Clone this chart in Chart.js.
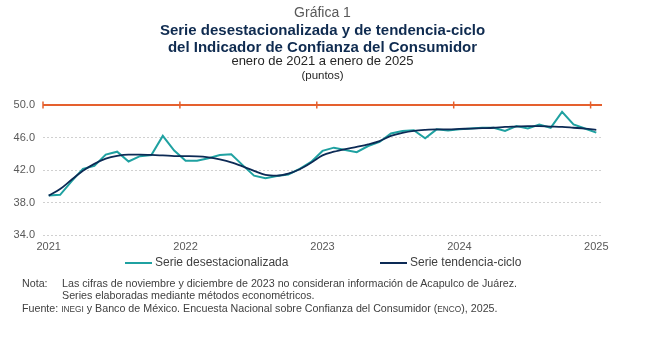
<!DOCTYPE html>
<html lang="es">
<head>
<meta charset="utf-8">
<script src="https://cdn.jsdelivr.net/npm/chart.js@4/dist/chart.umd.min.js"></script>
<style>
    body { margin: 0; background: #fff; font-family: Arial, "Liberation Sans", sans-serif; }
    #lienzo { position: relative; width: 645px; height: 337px; overflow: hidden; }
    #grafica { position: absolute; left: 0; top: 0; width: 645px; height: 337px; }
    .centrado { position: absolute; left: 0; width: 645px; text-align: center; white-space: nowrap; }
    .numero { top: 4px; font-size: 14px; color: #595959; }
    .titulo { top: 21px; font-size: 15px; font-weight: bold; color: #0f2b50; line-height: 17px; }
    .subtitulo { top: 53px; font-size: 13px; color: #262626; }
    .unidad { top: 69px; font-size: 11.5px; color: #262626; }
    .leyenda { position: absolute; top: 255px; font-size: 12px; color: #404040; white-space: nowrap; }
    .leyenda i { display: inline-block; width: 27px; height: 2px; vertical-align: middle; margin-right: 3px; }
    .nota { position: absolute; font-size: 10.7px; color: #404040; white-space: nowrap; }
    .sc { font-size: 8.3px; }
</style>
</head>
<body>
<div id="lienzo">
    <div id="grafica"><canvas id="graficaConfianza"></canvas></div>

    <div class="centrado numero">Gráfica 1</div>
    <div class="centrado titulo">Serie desestacionalizada y de tendencia-ciclo<br>del Indicador de Confianza del Consumidor</div>
    <div class="centrado subtitulo">enero de 2021 a enero de 2025</div>
    <div class="centrado unidad">(puntos)</div>

    <div class="leyenda" style="left:125px"><i style="background:#1fa1a1"></i>Serie desestacionalizada</div>
    <div class="leyenda" style="left:380px"><i style="background:#0c2a55"></i>Serie tendencia-ciclo</div>

    <div class="nota" style="left:22px; top:277px">Nota:</div>
    <div class="nota" style="left:62px; top:277px">Las cifras de noviembre y diciembre de 2023 no consideran información de Acapulco de Juárez.</div>
    <div class="nota" style="left:62px; top:289px">Series elaboradas mediante métodos econométricos.</div>
    <div class="nota" style="left:22px; top:302px">Fuente: <span class="sc">INEGI</span> y Banco de México. Encuesta Nacional sobre Confianza del Consumidor (<span class="sc">ENCO</span>), 2025.</div>
</div>

<script>
// Meses de enero 2021 a enero 2025 (indice 0 = ene 2021)
const etiquetasAnio = ['2021', '2022', '2023', '2024', '2025'];
const posicionesAnio = [0, 12, 24, 36, 48];
// Cortes entre anios, donde la linea roja lleva sus marcas
const cortesAnio = [-0.5, 11.5, 23.5, 35.5, 47.5];
const umbral = 50;

// Serie desestacionalizada (puntos)
const serieDesest = [
    38.85, 38.95, 40.6, 42.15, 42.5, 43.9, 44.25, 43.05, 43.7, 43.85, 46.2, 44.4,
    43.15, 43.15, 43.45, 43.85, 43.95, 42.6, 41.3, 41.0, 41.25, 41.45, 42.15, 43.0,
    44.35, 44.75, 44.45, 44.2, 44.95, 45.45, 46.5, 46.8, 46.9, 45.9, 47.0, 46.85,
    47.0, 47.1, 47.2, 47.2, 46.8, 47.4, 47.1, 47.6, 47.2, 49.15, 47.6, 47.1,
    46.6
];

// Serie tendencia-ciclo (puntos)
const serieTendencia = [
    38.85, 39.65, 40.8, 41.9, 42.75, 43.4, 43.75, 43.9, 43.9, 43.85, 43.8, 43.72,
    43.7, 43.68, 43.56, 43.3, 42.95, 42.45, 41.9, 41.4, 41.3, 41.55, 42.1, 42.9,
    43.8, 44.25, 44.58, 44.85, 45.15, 45.55, 46.2, 46.57, 46.82, 46.94, 47.0, 47.0,
    47.05, 47.1, 47.15, 47.2, 47.3, 47.35, 47.4, 47.4, 47.35, 47.3, 47.2, 47.1,
    46.95
];

// Linea roja en 50 puntos con marcas en cada cambio de anio
const lineaUmbral = {
    id: 'lineaUmbral',
    beforeDatasetsDraw(chart) {
        const { ctx, chartArea, scales } = chart;
        const y = scales.y.getPixelForValue(umbral);
        ctx.save();
        ctx.strokeStyle = '#e5602e';
        ctx.lineWidth = 2;
        ctx.beginPath();
        ctx.moveTo(chartArea.left, y);
        ctx.lineTo(chartArea.right, y);
        ctx.stroke();
        ctx.lineWidth = 1.5;
        cortesAnio.forEach(c => {
            const x = scales.x.getPixelForValue(c);
            ctx.beginPath();
            ctx.moveTo(x, y - 3.5);
            ctx.lineTo(x, y + 3.5);
            ctx.stroke();
        });
        ctx.restore();
    }
};

const aPuntos = serie => serie.map((v, i) => ({ x: i, y: v }));

window.addEventListener('DOMContentLoaded', () => {
    const ctx = document.getElementById('graficaConfianza').getContext('2d');

    new Chart(ctx, {
        type: 'line',
        data: {
            datasets: [
                {
                    label: 'Serie tendencia-ciclo',
                    data: aPuntos(serieTendencia),
                    borderColor: '#0c2a55',
                    borderWidth: 1.8,
                    pointRadius: 0,
                    cubicInterpolationMode: 'monotone'
                },
                {
                    label: 'Serie desestacionalizada',
                    data: aPuntos(serieDesest),
                    borderColor: '#1fa1a1',
                    borderWidth: 2,
                    pointRadius: 0,
                    tension: 0
                }
            ]
        },
        options: {
            responsive: true,
            maintainAspectRatio: false,
            animation: false,
            layout: { padding: { top: 105, right: 43, bottom: 0, left: 0 } },
            scales: {
                x: {
                    type: 'linear',
                    min: -0.5,
                    max: 48.5,
                    afterBuildTicks: s => { s.ticks = posicionesAnio.map(v => ({ value: v })); },
                    afterFit: s => { s.height = 102; },
                    grid: { display: false, drawTicks: false },
                    border: { display: false },
                    ticks: {
                        color: '#595959',
                        font: { size: 11, family: 'Arial, "Liberation Sans"' },
                        padding: 5,
                        maxRotation: 0,
                        autoSkip: false,
                        callback: v => etiquetasAnio[posicionesAnio.indexOf(v)]
                    }
                },
                y: {
                    min: 34,
                    max: 50,
                    afterFit: s => { s.width = 43; },
                    grid: {
                        drawTicks: false,
                        color: c => c.tick.value === umbral ? 'rgba(0,0,0,0)' : '#d0d0d0',
                        lineWidth: 1
                    },
                    border: { display: false, dash: [2, 2] },
                    ticks: {
                        stepSize: 4,
                        color: '#595959',
                        font: { size: 11, family: 'Arial, "Liberation Sans"' },
                        padding: 8,
                        callback: v => v.toFixed(1)
                    }
                }
            },
            plugins: { legend: { display: false }, tooltip: { enabled: false } }
        },
        plugins: [lineaUmbral]
    });
});
</script>
</body>
</html>
